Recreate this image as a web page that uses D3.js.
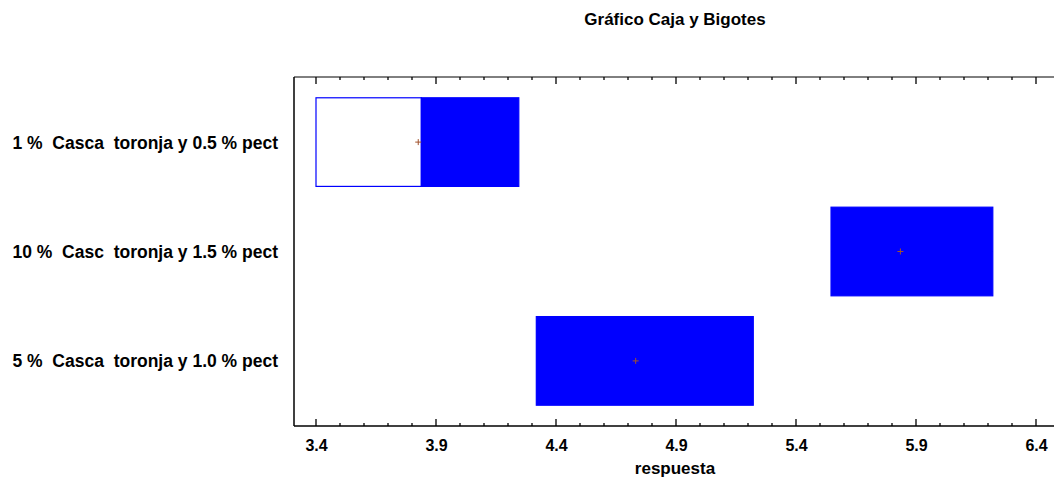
<!DOCTYPE html>
<html>
<head>
  <meta charset="utf-8">
  <title>Gráfico Caja y Bigotes</title>
  <script src="https://d3js.org/d3.v7.min.js"></script>
  <style>
    body { margin: 0; background: #fff; }
    text { font-family: "Liberation Sans", Arial, sans-serif; font-weight: bold; fill: #000; white-space: pre; }
  </style>
</head>
<body>
  <div id="chart"></div>
  <script>
  const categories = [
    "1 %  Casca  toronja y 0.5 % pect",
    "10 %  Casc  toronja y 1.5 % pect",
    "5 %  Casca  toronja y 1.0 % pect"
  ];
  const minVals = [3.40, 5.546, 4.318];
  const q1Vals = [3.40, 5.546, 4.318];
  const medianVals = [3.839, 5.546, 4.318];
  const q3Vals = [4.245, 6.22, 5.222];
  const maxVals = [4.245, 6.22, 5.222];
  const meanVals = [3.826, 5.835, 4.732];
  const tickVals = [3.4, 3.9, 4.4, 4.9, 5.4, 5.9, 6.4];

  const W = 1054, H = 479;
  const plotLeft = 294, plotTop = 77, plotBottom = 426, plotRight = 1060;

  const svg = d3.select("#chart")
    .append("svg")
    .attr("width", W)
    .attr("height", H);

  const x = d3.scaleLinear()
    .domain([3.4, 6.4])
    .range([316, 1036]);

  const y = d3.scaleBand()
    .domain(categories)
    .range([plotTop, plotBottom])
    .padding(0.19);

  const data = categories.map((c, i) => ({
    cat: c, min: minVals[i], q1: q1Vals[i], med: medianVals[i],
    q3: q3Vals[i], max: maxVals[i], mean: meanVals[i]
  }));

  // frame
  svg.append("line").attr("x1", plotLeft).attr("x2", plotLeft).attr("y1", plotTop).attr("y2", plotBottom)
    .attr("stroke", "#000").attr("stroke-width", 1.5);
  svg.append("line").attr("x1", plotLeft).attr("x2", plotRight).attr("y1", plotBottom).attr("y2", plotBottom)
    .attr("stroke", "#000").attr("stroke-width", 1.5);
  svg.append("line").attr("x1", plotLeft).attr("x2", plotRight).attr("y1", plotTop).attr("y2", plotTop)
    .attr("stroke", "#000").attr("stroke-width", 1);

  // tick labels
  const bottomAxis = d3.axisBottom(x).tickValues(tickVals).tickFormat(d3.format(".1f")).tickSize(0).tickPadding(0);
  const gx = svg.append("g").attr("transform", `translate(0,${plotBottom})`).call(bottomAxis);
  gx.select(".domain").remove();
  gx.selectAll("text")
    .attr("dy", null).attr("y", 24.7)
    .attr("font-size", 16).attr("font-family", "'Liberation Sans', Arial, sans-serif").attr("font-weight", "bold");

  // major + minor ticks, bottom pointing up, top pointing down
  const minor = d3.range(34, 65).map(v => v / 10);
  svg.selectAll(".tb").data(minor).enter().append("line")
    .attr("x1", d => x(d)).attr("x2", d => x(d))
    .attr("y1", plotBottom)
    .attr("y2", (d, i) => plotBottom - (i % 5 === 0 ? 7 : 3))
    .attr("stroke", "#000").attr("stroke-width", 1.3);
  svg.selectAll(".tt").data(minor).enter().append("line")
    .attr("x1", d => x(d)).attr("x2", d => x(d))
    .attr("y1", plotTop)
    .attr("y2", (d, i) => plotTop + (i % 5 === 0 ? 7 : 3))
    .attr("stroke", "#000").attr("stroke-width", 1.3);

  // category labels
  svg.selectAll(".cl").data(categories).enter().append("text")
    .attr("x", 278)
    .attr("y", d => y(d) + y.bandwidth() / 2 + 6.5)
    .attr("text-anchor", "end")
    .attr("font-size", 17.5)
    .text(d => d);

  // boxes
  const g = svg.append("g");
  g.selectAll(".wl").data(data).enter().append("line")
    .attr("x1", d => x(d.min)).attr("x2", d => x(d.max))
    .attr("y1", d => y(d.cat) + y.bandwidth() / 2)
    .attr("y2", d => y(d.cat) + y.bandwidth() / 2)
    .attr("stroke", "#6666ff").attr("stroke-width", 1);
  // lower part (white)
  g.selectAll(".lo").data(data).enter().append("rect")
    .attr("x", d => x(d.q1))
    .attr("y", d => y(d.cat))
    .attr("width", d => x(d.med) - x(d.q1))
    .attr("height", y.bandwidth())
    .attr("fill", "#fff")
    .attr("stroke", "#0000ff").attr("stroke-width", 1.2);
  // upper part (blue)
  g.selectAll(".hi").data(data).enter().append("rect")
    .attr("x", d => x(d.med))
    .attr("y", d => y(d.cat))
    .attr("width", d => x(d.q3) - x(d.med))
    .attr("height", y.bandwidth())
    .attr("fill", "#0000ff")
    .attr("stroke", "#0000ff").attr("stroke-width", 1.2);
  // mean markers
  const mk = g.selectAll(".mean").data(data).enter().append("g")
    .attr("transform", d => `translate(${x(d.mean)},${y(d.cat) + y.bandwidth() / 2})`);
  mk.append("line").attr("x1", -3).attr("x2", 3).attr("y1", 0).attr("y2", 0)
    .attr("stroke", "#a0522d").attr("stroke-width", 1);
  mk.append("line").attr("x1", 0).attr("x2", 0).attr("y1", -3).attr("y2", 3)
    .attr("stroke", "#a0522d").attr("stroke-width", 1);

  // title and axis label
  svg.append("text").attr("x", 675).attr("y", 25).attr("text-anchor", "middle")
    .attr("font-size", 17).text("Gráfico Caja y Bigotes");
  svg.append("text").attr("x", 675).attr("y", 474).attr("text-anchor", "middle")
    .attr("font-size", 17).text("respuesta");
  </script>
</body>
</html>
